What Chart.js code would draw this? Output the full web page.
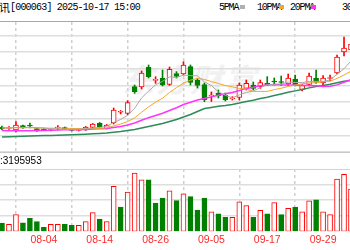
<!DOCTYPE html>
<html><head><meta charset="utf-8">
<script src="https://cdn.jsdelivr.net/npm/chart.js@4/dist/chart.umd.min.js"></script>
<style>
html,body{margin:0;padding:0;width:350px;height:250px;overflow:hidden;background:#fff;}
#wrap{position:relative;width:350px;height:250px;overflow:hidden;}
.abs{position:absolute;white-space:nowrap;}
#hline{left:0;top:21px;width:350px;height:0;border-top:1px solid #a8a8a8;}
#t1{right:340px;top:0;font:11px "Noto Sans CJK SC";line-height:15px;color:#000;}
#t2{left:10px;top:0;font:10px "Liberation Mono";letter-spacing:-0.8px;line-height:15px;color:#000;}
.lg{top:0;font:10px "Liberation Mono";letter-spacing:-1.2px;line-height:15px;color:#000;}
.mk{top:5px;width:5px;height:4px;}
#wm{left:122px;top:58px;font:italic bold 32px "Noto Sans CJK SC";line-height:40px;color:#f1f1f1;letter-spacing:2px;}
#vbox{left:0;top:152px;width:350px;height:16px;background:#fff;border-top:1px solid #c8c8c8;border-bottom:1px solid #c8c8c8;}
#vtxt{left:-10px;top:153px;font:10px "Liberation Sans";line-height:16px;color:#000;}
canvas{position:absolute;left:0;}
</style></head>
<body><div id="wrap">
<div class="abs" id="hline"></div>
<span class="abs" id="t1">中兴通讯</span>
<span class="abs" id="t2">[000063] 2025-10-17 15:00</span>
<span class="abs lg" style="left:219px">5PMA</span><div class="abs mk" style="left:240px;background:#b0b0b0"></div>
<span class="abs lg" style="left:257px">10PMA</span><div class="abs mk" style="left:279px;background:#f5a623"></div>
<span class="abs lg" style="left:290px">20PMA</span><div class="abs mk" style="left:311px;background:#ff33ff"></div>
<span class="abs lg" style="left:342px">30PMA</span>
<span class="abs" id="wm">东方财富</span>
<canvas id="pc" width="350" height="131" style="top:22px"></canvas>
<div class="abs" id="vbox"></div>
<span class="abs" id="vtxt">量:3195953</span>
<canvas id="vc" width="350" height="81" style="top:169px"></canvas>
</div>
<script>
const dates = ['07-25','07-28','07-29','07-30','07-31','08-01','08-04','08-05','08-06','08-07','08-08','08-11','08-12','08-13','08-14','08-15','08-18','08-19','08-20','08-21','08-22','08-25','08-26','08-27','08-28','08-29','09-01','09-02','09-03','09-04','09-05','09-08','09-09','09-10','09-11','09-12','09-15','09-16','09-17','09-18','09-19','09-22','09-23','09-24','09-25','09-26','09-29','09-30','10-09','10-10','10-13'];
const tickDates = ['08-04','08-14','08-26','09-05','09-17','09-29'];
const open  = [31.25,31.02,30.8,31.45,31.48,31.03,30.95,30.73,31.1,31.15,30.88,30.73,30.8,31.2,31.8,31.0,31.85,33.46,33.3,37.3,37.25,40.2,38.25,38.6,37.63,39.28,39.2,40.3,38.3,37.63,35.9,36.3,36.05,35.45,35.68,37.05,37.55,37.3,37.8,38.15,38.08,37.7,38.45,36.88,37.63,38.55,37.85,38.53,39.35,42.5,42.8];
const high  = [31.4,31.33,32.05,31.55,31.85,31.1,31.03,30.95,31.48,31.25,30.95,30.95,31.33,31.78,31.93,31.63,34.1,33.73,35.2,37.55,39.65,40.55,38.8,39.8,40.25,39.55,41.05,40.55,38.55,37.85,36.5,36.8,36.35,35.8,37.85,38.3,38.0,38.3,38.8,38.6,38.9,39.2,39.05,37.63,39.35,39.8,38.98,39.05,42.05,44.75,44.6];
const low   = [30.8,30.88,30.5,31.03,31.1,30.58,30.73,30.65,30.8,30.88,30.65,30.65,30.73,31.1,31.25,30.95,31.7,33.2,33.05,36.3,36.95,38.6,37.8,37.4,37.48,38.6,39.05,37.55,37.1,35.05,35.08,35.6,35.15,35.3,35.3,36.8,36.8,37.05,37.48,37.55,37.48,37.48,37.4,36.65,37.4,37.8,37.55,38.15,39.2,41.9,42.35];
const close = [30.95,31.1,31.55,31.1,31.4,30.65,30.8,30.88,31.18,30.95,30.73,30.88,31.25,31.7,31.3,31.55,33.8,33.5,34.9,36.55,39.35,38.8,38.3,37.55,39.9,38.83,40.55,37.93,37.48,35.3,36.05,35.9,35.3,35.55,37.55,37.8,37.03,37.9,37.55,38.0,37.93,38.6,37.55,37.48,38.9,37.96,38.6,38.6,41.75,43.1,43.7];
const ma5  = [31.13,31.13,31.18,31.18,31.22,31.16,31.1,30.97,30.98,30.89,30.9,30.92,31.0,31.1,31.18,31.34,31.93,32.38,33.0,34.06,35.62,36.62,37.58,38.1,38.78,38.68,39.02,38.95,38.93,38.02,37.46,36.53,36.0,35.62,36.07,36.43,36.65,37.16,37.57,37.66,37.69,38.0,37.93,37.91,38.09,38.09,38.09,38.3,39.16,40.0,41.15];
const ma10 = [31.1,31.1,31.13,31.13,31.15,31.1,31.1,31.07,31.09,31.06,31.03,31.01,30.98,31.04,31.03,31.12,31.42,31.69,32.06,32.62,33.47,34.27,34.97,35.56,36.43,37.15,37.82,38.27,38.53,38.39,38.06,37.78,37.48,37.28,37.04,36.94,36.59,36.59,36.59,36.86,37.06,37.33,37.55,37.73,37.87,37.88,38.05,38.12,38.54,39.05,39.62];
const ma20 = [30.73,30.7,30.68,30.68,30.7,30.71,30.73,30.76,30.79,30.82,30.83,30.86,30.89,30.94,30.98,31.04,31.18,31.33,31.55,31.84,32.26,32.65,32.98,33.31,33.73,34.13,34.63,34.97,35.29,35.51,35.77,36.02,36.23,36.43,36.73,37.04,37.21,37.43,37.55,37.63,37.57,37.55,37.51,37.51,37.46,37.42,37.31,37.36,37.57,37.96,38.33];
const ma30 = [29.75,29.78,29.83,29.87,29.9,29.93,29.96,29.99,30.02,30.05,30.08,30.13,30.17,30.23,30.29,30.35,30.46,30.56,30.71,30.88,31.1,31.33,31.55,31.79,32.08,32.38,32.75,33.13,33.58,34.03,34.19,34.36,34.48,34.63,34.84,35.08,35.27,35.51,35.72,35.96,36.2,36.46,36.67,36.86,37.12,37.33,37.49,37.66,37.88,38.11,38.24];
const volume = [520000,450000,1070000,550000,840000,620000,260000,450000,450000,450000,390000,390000,620000,1200000,790000,620000,2880000,1550000,2520000,3740000,3310000,3310000,1810000,2130000,2600000,1970000,2410000,2230000,1370000,2130000,1250000,1120000,900000,900000,1890000,1650000,900000,1350000,1120000,1850000,1070000,1480000,1550000,1250000,1950000,2020000,1250000,1070000,3350000,3650000,2710000];
const volUp = [0,1,1,0,0,0,0,1,1,0,0,1,1,1,0,1,1,0,1,1,1,0,0,0,1,0,1,0,0,0,1,0,0,1,1,1,0,1,0,1,0,1,0,1,1,0,1,1,1,1,1];
const priceTicks = [27.5,30,32.5,35,37.5,40,42.5,45];
const volTicks = [1000000,2000000,3000000,4000000];

const RED = '#ff0000', GREEN = '#008000';
const X_MIN = -0.2865, X_MAX = 49.857;
const idx = dates.map((d,i)=>i);
const up = i => close[i] >= open[i];

function xAxis(showLabels){
  return {
    type:'linear', min:X_MIN, max:X_MAX, offset:false,
    afterBuildTicks: s => { s.ticks = tickDates.map(d => ({value: dates.indexOf(d)})); },
    afterFit: s => { s.height = showLabels ? 15 : 0; },
    grid:{display:true, drawTicks:false, color:'#cfcfcf', lineWidth:1.5},
    border:{display:false, dash:[3,3]},
    ticks:{display:showLabels, autoSkip:false, maxRotation:0, minRotation:0, padding:3,
      color:'#ff2a2a', font:{family:'Liberation Sans', size:10.5},
      callback: v => dates[v]}
  };
}
function yAxis(min,max,ticks){
  return {
    type:'linear', min, max,
    afterBuildTicks: s => { s.ticks = ticks.map(v => ({value:v})); },
    afterFit: s => { s.width = 0; },
    grid:{display:true, drawTicks:false, color:'#dedede', lineWidth:1.5},
    border:{display:false},
    ticks:{display:false}
  };
}
const common = {
  responsive:false, animation:false, devicePixelRatio:1, events:[],
  plugins:{legend:{display:false}, tooltip:{enabled:false}}
};

new Chart(document.getElementById('pc'), {
  type:'bar',
  data:{datasets:[
    {type:'line', data: idx.map(i=>({x:i,y:ma5[i]})), borderColor:'#a9a9a9', borderWidth:1, pointRadius:0, order:0},
    {type:'line', data: idx.map(i=>({x:i,y:ma10[i]})), borderColor:'#f5a623', borderWidth:1, pointRadius:0, order:0},
    {type:'line', data: idx.map(i=>({x:i,y:ma20[i]})), borderColor:'#ff33ff', borderWidth:1.5, pointRadius:0, order:0},
    {type:'line', data: idx.map(i=>({x:i,y:ma30[i]})), borderColor:'#2e8b57', borderWidth:1.5, pointRadius:0, order:0},
    {data: idx.map(i=>({x:i,y:[open[i],close[i]]})), grouped:false, barThickness:5, minBarLength:1,
      borderWidth:1, borderSkipped:false,
      borderColor: c => up(c.dataIndex) ? RED : GREEN,
      backgroundColor: c => up(c.dataIndex) ? '#ffffff' : GREEN, order:1},
    {data: idx.map(i=>({x:i,y:[low[i],high[i]]})), grouped:false, barThickness:1, borderWidth:0,
      backgroundColor: c => up(c.dataIndex) ? RED : GREEN, order:2}
  ]},
  options:Object.assign({}, common, {
    layout:{padding:0},
    scales:{x:xAxis(false), y:yAxis(27.35,47.0,priceTicks)}
  })
});

new Chart(document.getElementById('vc'), {
  type:'bar',
  data:{datasets:[
    {data: idx.map(i=>({x:i,y:volume[i]})), grouped:false, barThickness:5, borderWidth:1, borderSkipped:false,
      borderColor: c => volUp[c.dataIndex] ? RED : GREEN,
      backgroundColor: c => volUp[c.dataIndex] ? '#ffffff' : GREEN}
  ]},
  options:Object.assign({}, common, {
    layout:{padding:{left:0,right:0,top:0,bottom:3.7}},
    scales:{x:xAxis(true), y:yAxis(0,4000000,volTicks)}
  })
});
</script>
</body></html>
